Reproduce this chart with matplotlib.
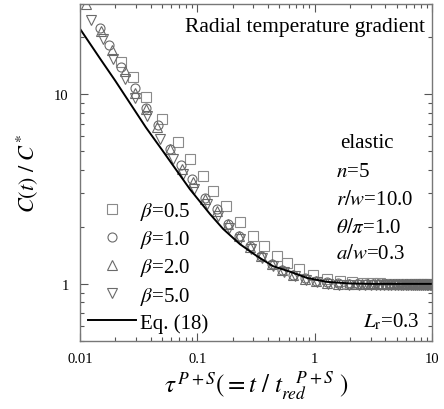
import matplotlib
matplotlib.use("Agg")
import matplotlib.pyplot as plt
from matplotlib.lines import Line2D

plt.rcParams.update({
    "font.family": ["Liberation Serif", "DejaVu Serif"],
    "mathtext.fontset": "stix",
    "font.size": 15,
})

# --- data ---
tau_eq = [0.01, 0.015, 0.02, 0.0365, 0.05, 0.0865, 0.128, 0.166, 0.231, 0.323,
          0.442, 0.617, 0.861, 1.27, 2.0, 3.0, 5.0, 10.0]
c_eq = [22.2, 15.3, 11.8, 6.69, 5.10, 3.16, 2.34, 1.95, 1.62, 1.40,
        1.24, 1.16, 1.075, 1.025, 1.005, 1.0, 1.0, 1.0]

tau_b05 = [0.0224, 0.0283, 0.0366, 0.050, 0.0685, 0.0866, 0.112, 0.136, 0.175, 0.231,
           0.296, 0.37, 0.476, 0.58, 0.736, 0.968, 1.27, 1.64, 2.1, 2.6, 3.1, 3.6,
           4.1, 4.6, 5.1, 5.6, 6.1, 6.6, 7.1, 7.6, 8.1, 8.6, 9.1, 9.6]
c_b05 = [14.9, 12.3, 9.64, 7.39, 5.59, 4.55, 3.70, 3.09, 2.57, 2.12,
         1.79, 1.58, 1.40, 1.29, 1.20, 1.115, 1.06, 1.03, 1.02, 1.01, 1.01, 1.01,
         1.0, 1.0, 1.0, 1.0, 1.0, 1.0, 1.0, 1.0, 1.0, 1.0, 1.0, 1.0]

tau_b10 = [0.0148, 0.0177, 0.0224, 0.0294, 0.0365, 0.0462, 0.0585, 0.0726, 0.0901, 0.116,
           0.147, 0.182, 0.226, 0.28, 0.35, 0.43, 0.53, 0.66, 0.82, 1.02, 1.27, 1.58,
           1.95, 2.35, 2.75, 3.15, 3.55, 3.95, 4.35, 4.75, 5.15, 5.55, 5.95, 6.35,
           6.75, 7.15, 7.55, 7.95, 8.35, 8.75, 9.15, 9.55, 9.95]
c_b10 = [22.5, 18.3, 14.0, 10.8, 8.44, 6.87, 5.13, 4.23, 3.57, 2.84,
         2.48, 2.07, 1.80, 1.58, 1.41, 1.28, 1.19, 1.12, 1.07, 1.04, 1.02, 1.01,
         1.0, 1.0, 1.0, 1.0, 1.0, 1.0, 1.0, 1.0, 1.0, 1.0, 1.0, 1.0,
         1.0, 1.0, 1.0, 1.0, 1.0, 1.0, 1.0, 1.0, 1.0]

tau_b20 = [0.01125, 0.0151, 0.0187, 0.0242, 0.0294, 0.0365, 0.0453, 0.0585, 0.0741, 0.0918,
           0.116, 0.147, 0.182, 0.226, 0.28, 0.35, 0.43, 0.53, 0.66, 0.82, 1.02, 1.27,
           1.58, 1.95, 2.25, 2.55, 2.85, 3.15, 3.45, 3.75, 4.05, 4.35, 4.65, 4.95,
           5.25, 5.55, 5.85, 6.15, 6.45, 6.75, 7.05, 7.35, 7.65, 7.95, 8.25, 8.55,
           8.85, 9.15, 9.45, 9.75]
c_b20 = [29.8, 21.5, 17.1, 13.2, 10.2, 8.34, 6.70, 5.13, 4.03, 3.44,
         2.80, 2.42, 2.07, 1.78, 1.56, 1.40, 1.27, 1.18, 1.11, 1.06, 1.03, 1.01,
         1.0, 1.0, 1.0, 1.0, 1.0, 1.0, 1.0, 1.0, 1.0, 1.0, 1.0, 1.0,
         1.0, 1.0, 1.0, 1.0, 1.0, 1.0, 1.0, 1.0, 1.0, 1.0, 1.0, 1.0,
         1.0, 1.0, 1.0, 1.0]

tau_b50 = [0.01241, 0.0157, 0.0191, 0.0242, 0.0294, 0.0372, 0.0481, 0.0620, 0.0755, 0.0935,
           0.121, 0.150, 0.186, 0.23, 0.285, 0.355, 0.44, 0.545, 0.675, 0.84, 1.04, 1.29,
           1.6, 1.98, 2.4, 2.7, 3.0, 3.3, 3.6, 3.9, 4.2, 4.5, 4.8, 5.1, 5.4, 5.7,
           6.0, 6.3, 6.6, 6.9, 7.2, 7.5, 7.8, 8.1, 8.4, 8.7, 9.0, 9.3, 9.6, 9.9]
c_b50 = [24.8, 19.5, 15.3, 12.0, 9.52, 7.66, 5.80, 4.55, 3.79, 3.16,
         2.64, 2.28, 1.98, 1.72, 1.52, 1.37, 1.25, 1.16, 1.10, 1.05, 1.02, 1.0,
         0.99, 0.99, 0.99, 0.99, 0.99, 0.99, 0.99, 0.99, 0.99, 0.99, 0.99, 0.99, 0.99, 0.99,
         0.99, 0.99, 0.99, 0.99, 0.99, 0.99, 0.99, 0.99, 0.99, 0.99, 0.99, 0.99, 0.99, 0.99]

params = [r"elastic", r"$n$=5", r"$r/w$=10.0", r"$\theta/\pi$=1.0", r"$a/w$=0.3"]

# --- plot ---
fig = plt.figure(figsize=(4.44, 4.10), dpi=100)
ax = fig.add_axes([0.180, 0.166, 0.793, 0.822])

mk = dict(linestyle="none", markerfacecolor="none", markersize=6.5, markeredgewidth=0.8)
ax.plot(tau_b05, c_b05, marker="s", color="#8a8a8a", **mk)
ax.plot(tau_b10, c_b10, marker="o", color="#6a6a6a", **mk)
ax.plot(tau_b20, c_b20, marker="^", color="#6a6a6a", **mk)
ax.plot(tau_b50, c_b50, marker="v", color="#6a6a6a", **mk)
ax.plot(tau_eq, c_eq, color="black", linewidth=1.4)

ax.set_xscale("log")
ax.set_yscale("log")
ax.set_xlim(0.01, 10)
ax.set_ylim(0.5, 30)

ax.set_xticks([0.01, 0.1, 1, 10])
ax.set_xticklabels(["0.01", "0.1", "1", "10"])
ax.set_yticks([1, 10])
ax.set_yticklabels(["1", "10"])
ax.tick_params(which="both", direction="in", top=True, right=True, labelsize=10.5, colors="#555555")
ax.tick_params(which="major", length=6, width=0.8, labelcolor="black", pad=8)
ax.tick_params(which="minor", length=3, width=0.8)
for s in ax.spines.values():
    s.set_color("#777777")
    s.set_linewidth(1.0)

ax.set_xlabel(r"$\tau^{\,P+S}(=t\ /\ t_{red}^{\quad P+S}\ )$", fontsize=18, labelpad=3)
ax.set_ylabel(r"$C(t)\ /\ C^{*}$", fontsize=16, labelpad=10)

ax.text(0.98, 0.932, "Radial temperature gradient", transform=ax.transAxes,
        ha="right", va="center", fontsize=15.5)
ys = [0.590, 0.504, 0.421, 0.338, 0.258]
for i, (lab, yy) in enumerate(zip(params, ys)):
    ax.text(0.739 if i == 0 else 0.728, yy, lab, transform=ax.transAxes,
            ha="left", va="center", fontsize=15)
ax.text(0.966, 0.059, r"$L_{\rm r}$=0.3", transform=ax.transAxes,
        ha="right", va="center", fontsize=15)

handles = [
    Line2D([], [], marker="s", color="#8a8a8a", **mk),
    Line2D([], [], marker="o", color="#6a6a6a", **mk),
    Line2D([], [], marker="^", color="#6a6a6a", **mk),
    Line2D([], [], marker="v", color="#6a6a6a", **mk),
    Line2D([], [], color="black", linewidth=1.4),
]
labels = [r"$\beta$=0.5", r"$\beta$=1.0", r"$\beta$=2.0", r"$\beta$=5.0", "Eq. (18)"]
ax.legend(handles, labels, loc="lower left", frameon=False, fontsize=15,
          handlelength=2.3, handletextpad=0.2, labelspacing=0.3,
          borderaxespad=0.0, borderpad=0.4)

fig.savefig("out.png", dpi=100)
